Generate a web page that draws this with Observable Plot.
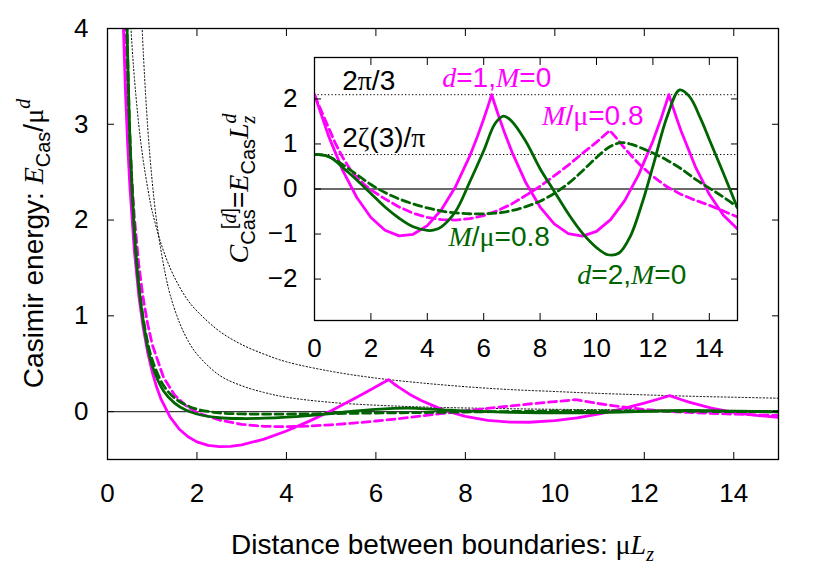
<!DOCTYPE html>
<html><head><meta charset="utf-8">
<script src="https://cdn.jsdelivr.net/npm/d3@7"></script>
<script src="https://cdn.jsdelivr.net/npm/@observablehq/plot@0.6"></script>
<style>
body{margin:0;background:#fff;}
#wrap{position:relative;width:830px;height:581px;overflow:hidden;}
#wrap svg{position:absolute;left:0;top:0;}
</style></head><body><div id="wrap"></div><script>
// ---------- data ----------
const xTicks = [0, 2, 4, 6, 8, 10, 12, 14];
const yTicksMain = [0, 1, 2, 3, 4];
const yTicksInset = [-2, -1, 0, 1, 2];
const insetRefLevels = [2.094, 0.765]; // 2π/3 , 2ζ(3)/π

// main panel: dotted reference curves
const envD1 = [[0.5,4.19],[0.55,3.81],[0.6,3.49],[0.7,2.99],[0.8,2.62],[0.9,2.33],[1.0,2.09],[1.2,1.75],[1.4,1.50],[1.6,1.31],[1.8,1.16],[2.0,1.05],[2.5,0.84],[3.0,0.70],[3.5,0.60],[4.0,0.52],[5.0,0.42],[6.0,0.35],[7.0,0.30],[8.0,0.26],[9.0,0.23],[10.0,0.21],[11.0,0.19],[12.0,0.175],[13.0,0.161],[14.0,0.15],[15.0,0.14]];
const envD2 = [[0.75,4.27],[0.8,3.75],[0.9,2.96],[1.0,2.40],[1.1,1.98],[1.2,1.67],[1.3,1.42],[1.4,1.22],[1.6,0.94],[1.8,0.74],[2.0,0.60],[2.5,0.38],[3.0,0.27],[3.5,0.20],[4.0,0.15],[5.0,0.096],[6.0,0.067],[7.0,0.049],[8.0,0.038],[10.0,0.024],[12.0,0.017],[15.0,0.011]];

// main panel: E_Cas / mu^d
const mainD1M0 = [[0.3,5.08],[0.35,4.10],[0.4,3.36],[0.45,2.80],[0.5,2.35],[0.6,1.68],[0.7,1.21],[0.8,0.873],[0.9,0.614],[1.0,0.413],[1.1,0.254],[1.2,0.127],[1.4,-0.058],[1.6,-0.181],[1.8,-0.263],[2.0,-0.316],[2.25,-0.353],[2.5,-0.366],[2.75,-0.363],[3.0,-0.347],[3.5,-0.287],[4.0,-0.203],[4.5,-0.102],[5.0,0.010],[5.5,0.132],[5.75,0.195],[6.0,0.259],[6.15,0.298],[6.283,0.333],[6.4,0.291],[6.5,0.258],[6.75,0.182],[7.0,0.118],[7.5,0.018],[8.0,-0.050],[8.5,-0.091],[9.0,-0.110],[9.42,-0.111],[10.0,-0.094],[10.5,-0.065],[11.0,-0.023],[11.5,0.028],[12.0,0.089],[12.3,0.129],[12.566,0.167],[12.8,0.129],[13.0,0.099],[13.5,0.037],[14.0,-0.008],[14.5,-0.040],[15.0,-0.059]];
const mainD1M08 = [[0.3,5.5],[0.35,4.51],[0.4,3.75],[0.45,3.18],[0.5,2.72],[0.6,2.03],[0.7,1.53],[0.8,1.175],[0.9,0.91],[1.0,0.70],[1.25,0.36],[1.5,0.173],[1.75,0.063],[2.0,-0.01],[2.5,-0.088],[3.0,-0.133],[3.5,-0.154],[4.0,-0.158],[4.5,-0.151],[5.0,-0.138],[5.5,-0.12],[6.0,-0.098],[6.5,-0.074],[7.0,-0.047],[7.5,-0.019],[8.0,0.0075],[8.5,0.034],[9.0,0.059],[9.5,0.083],[10.0,0.104],[10.47,0.124],[10.75,0.102],[11.0,0.082],[11.5,0.049],[12.0,0.023],[12.5,0.004],[13.0,-0.009],[14.0,-0.026],[15.0,-0.041]];
const mainD2M0 = [[0.3,8.5],[0.35,6.23],[0.4,4.75],[0.45,3.73],[0.5,2.88],[0.6,1.89],[0.7,1.31],[0.8,0.94],[0.9,0.67],[1.0,0.48],[1.25,0.218],[1.5,0.089],[1.75,0.016],[2.0,-0.025],[2.5,-0.064],[3.0,-0.072],[3.5,-0.069],[4.0,-0.058],[4.5,-0.041],[5.0,-0.02],[5.5,0.005],[6.0,0.024],[6.7,0.036],[7.0,0.031],[7.5,0.019],[8.0,0.007],[9.0,-0.007],[10.4,-0.0135],[11.2,-0.008],[12.0,0.0035],[12.95,0.013],[14.0,0.0056],[15.0,-0.002]];
const mainD2M08 = [[0.3,8.5],[0.35,6.23],[0.4,4.75],[0.45,3.73],[0.5,2.88],[0.6,1.92],[0.7,1.33],[0.8,0.97],[0.9,0.72],[1.0,0.54],[1.25,0.275],[1.5,0.142],[1.75,0.069],[2.0,0.025],[2.5,-0.013],[3.0,-0.024],[3.5,-0.027],[4.0,-0.026],[5.0,-0.021],[6.0,-0.015],[7.0,-0.0098],[8.0,-0.0042],[9.0,0.0015],[10.0,0.007],[10.9,0.0087],[12.0,0.0056],[13.0,0.0027],[14.0,0.0001],[15.0,-0.0018]];

// inset: C_Cas^[d] = E_Cas L_z^d
const insetD1M0 = [[0,2.094],[0.5,1.174],[1.0,0.413],[1.5,-0.189],[2.0,-0.632],[2.5,-0.916],[3.0,-1.041],[3.5,-1.006],[4.0,-0.812],[4.5,-0.460],[5.0,0.052],[5.5,0.724],[5.75,1.119],[6.0,1.554],[6.15,1.834],[6.283,2.094],[6.5,1.676],[6.75,1.230],[7.0,0.825],[7.5,0.132],[8.0,-0.401],[8.5,-0.775],[9.0,-0.990],[9.5,-1.045],[10.0,-0.942],[10.5,-0.679],[11.0,-0.257],[11.5,0.324],[12.0,1.064],[12.3,1.584],[12.566,2.094],[12.8,1.645],[13.0,1.287],[13.5,0.505],[14.0,-0.118],[14.5,-0.582],[15.0,-0.888]];
const insetD1M08 = [[0,2.09],[0.25,1.72],[0.5,1.36],[0.75,1.0],[1.0,0.7],[1.25,0.45],[1.5,0.26],[1.75,0.11],[2.0,-0.02],[2.5,-0.22],[3.0,-0.4],[3.5,-0.54],[4.0,-0.63],[4.5,-0.68],[5.0,-0.69],[5.5,-0.66],[6.0,-0.59],[6.5,-0.48],[7.0,-0.33],[7.5,-0.14],[8.0,0.06],[8.5,0.29],[9.0,0.53],[9.5,0.79],[10.0,1.04],[10.47,1.3],[10.75,1.1],[11.0,0.9],[11.5,0.56],[12.0,0.28],[12.5,0.05],[13.0,-0.12],[13.5,-0.25],[14.0,-0.36],[14.5,-0.49],[15.0,-0.62]];
const insetD2M0 = [[0,0.77],[0.25,0.76],[0.5,0.72],[0.75,0.62],[1.0,0.48],[1.5,0.2],[2.0,-0.1],[2.5,-0.4],[3.0,-0.65],[3.5,-0.84],[4.0,-0.92],[4.25,-0.91],[4.5,-0.84],[5.0,-0.5],[5.5,0.15],[6.0,0.85],[6.4,1.45],[6.7,1.62],[7.0,1.5],[7.5,1.05],[8.0,0.45],[8.5,-0.05],[9.0,-0.55],[9.5,-0.98],[10.0,-1.3],[10.4,-1.46],[10.8,-1.42],[11.2,-1.05],[11.6,-0.35],[12.0,0.5],[12.5,1.6],[12.95,2.2],[13.3,2.05],[13.7,1.55],[14.0,1.1],[14.5,0.35],[15.0,-0.42]];
const insetD2M08 = [[0,0.77],[0.25,0.76],[0.5,0.72],[0.75,0.64],[1.0,0.54],[1.5,0.32],[2.0,0.1],[2.5,-0.08],[3.0,-0.22],[3.5,-0.33],[4.0,-0.42],[4.5,-0.49],[5.0,-0.53],[5.5,-0.55],[6.0,-0.55],[6.5,-0.53],[7.0,-0.48],[7.5,-0.39],[8.0,-0.27],[8.5,-0.1],[9.0,0.12],[9.5,0.4],[10.0,0.7],[10.5,0.95],[10.9,1.03],[11.3,0.98],[11.7,0.88],[12.0,0.8],[12.5,0.64],[13.0,0.45],[13.5,0.22],[14.0,0.02],[14.5,-0.18],[15.0,-0.4]];

// ---------- styles ----------
const MAG = "#ff00ff", GRN = "#006400";
const SANS = "'Liberation Sans', Arial, Helvetica, sans-serif";
const SERIF = "'Liberation Serif', 'Times New Roman', serif";
const solid = c => ({stroke: c, strokeWidth: 2.8, clip: true});
const dashed = c => ({stroke: c, strokeWidth: 2.8, strokeDasharray: "8,4.5", clip: true});
const dotted = {stroke: "black", strokeWidth: 1, strokeDasharray: "1.3,2.2", clip: true, curve: "catmull-rom"};
const baseStyle = {background: "transparent", fontFamily: SANS, fontSize: "26px", color: "black", overflow: "visible"};
const fmt = d => (d < 0 ? "\u2212" + (-d) : String(d));

function frameAxes(yT, padX, padY) {
  return [
    Plot.axisX({ticks: xTicks, anchor: "bottom", tickSize: -7, tickPadding: padX, tickFormat: fmt, fontSize: 26, label: null}),
    Plot.axisX({ticks: xTicks, anchor: "top", tickSize: -7, tickFormat: () => "", label: null}),
    Plot.axisY({ticks: yT, anchor: "left", tickSize: -7, tickPadding: padY, tickFormat: fmt, fontSize: 26, label: null}),
    Plot.axisY({ticks: yT, anchor: "right", tickSize: -7, tickFormat: () => "", label: null})
  ];
}

// ---------- main panel ----------
const mainPlot = Plot.plot({
  width: 830, height: 581,
  marginLeft: 107, marginRight: 52, marginTop: 28, marginBottom: 122,
  style: baseStyle,
  x: {domain: [0, 15], label: null},
  y: {domain: [-0.5, 4], label: null},
  marks: [
    Plot.ruleY([0], {stroke: "#3a3a3a", strokeWidth: 1.4}),
    Plot.line(envD1, dotted),
    Plot.line(envD2, dotted),
    Plot.line(mainD1M0, solid(MAG)),
    Plot.line(mainD1M08, dashed(MAG)),
    Plot.line(mainD2M0, {...solid(GRN), curve: "catmull-rom"}),
    Plot.line(mainD2M08, {...dashed(GRN), curve: "catmull-rom"}),
    ...frameAxes(yTicksMain, 31, 26),
    Plot.frame({stroke: "black", strokeWidth: 1.3})
  ]
});

// ---------- inset ----------
const ann = (cls, txt, x, y, color) =>
  Plot.text([txt], {x: () => x, y: () => y, text: d => d, className: cls, fill: color,
    fontSize: 28, textAnchor: "start", lineAnchor: "middle"});

const insetPlot = Plot.plot({
  width: 830, height: 581,
  marginLeft: 314, marginRight: 93, marginTop: 57, marginBottom: 261,
  style: baseStyle,
  x: {domain: [0, 15], label: null},
  y: {domain: [-2.92, 2.92], label: null},
  marks: [
    Plot.frame({fill: "white"}),
    Plot.ruleY([0], {stroke: "#3a3a3a", strokeWidth: 1.4}),
    Plot.ruleY(insetRefLevels, {stroke: "black", strokeWidth: 1, strokeDasharray: "1.3,2.2"}),
    Plot.line(insetD1M0, solid(MAG)),
    Plot.line(insetD1M08, dashed(MAG)),
    Plot.line(insetD2M0, {...solid(GRN), curve: "catmull-rom"}),
    Plot.line(insetD2M08, {...dashed(GRN), curve: "catmull-rom"}),
    ...frameAxes(yTicksInset, 25, 24),
    Plot.frame({stroke: "black", strokeWidth: 1.3}),
    ann("a-twopi", "2π/3", 0.98, 2.40, "black"),
    ann("a-zeta", "2ζ(3)/π", 0.98, 1.13, "black"),
    ann("a-d1", "d=1,M=0", 4.53, 2.47, MAG),
    ann("a-m1", "M/μ=0.8", 8.07, 1.62, MAG),
    ann("a-m2", "M/μ=0.8", 4.75, -1.07, GRN),
    ann("a-d2", "d=2,M=0", 9.32, -1.91, GRN)
  ]
});

// ---------- rich text ----------
const it = s => `<tspan font-family="${SERIF}" font-style="italic">${s}</tspan>`;
const gr = s => `<tspan font-family="${SERIF}">${s}</tspan>`;
const rich = {
  "a-twopi": `2${gr("π")}/3`,
  "a-zeta": `2${gr("ζ")}(3)/${gr("π")}`,
  "a-d1": `${it("d")}=1,${it("M")}=0`,
  "a-m1": `${it("M")}/${gr("μ")}=0.8`,
  "a-m2": `${it("M")}/${gr("μ")}=0.8`,
  "a-d2": `${it("d")}=2,${it("M")}=0`
};
for (const [cls, html] of Object.entries(rich)) {
  const t = insetPlot.querySelector(`.${cls} text`);
  if (t) t.innerHTML = html;
}

function addLabel(svg, x, y, rotate, html) {
  d3.select(svg).append("text")
    .attr("transform", `translate(${x},${y})` + (rotate ? " rotate(-90)" : ""))
    .attr("text-anchor", "middle")
    .attr("font-family", SANS)
    .attr("font-size", 28)
    .attr("fill", "black")
    .html(html);
}
const mx = mainPlot.scale("x"), my = mainPlot.scale("y");
const iy = insetPlot.scale("y");
const mainCx = (mx.apply(0) + mx.apply(15)) / 2;
const mainCy = (my.apply(-0.5) + my.apply(4)) / 2;
const insetCy = (iy.apply(-2.92) + iy.apply(2.92)) / 2;

addLabel(mainPlot, mainCx, 554, false,
  `Distance between boundaries: ${gr("μ")}${it("L")}<tspan dy="7" font-size="20" font-family="${SERIF}" font-style="italic">z</tspan>`);
addLabel(mainPlot, 43, mainCy, true,
  `Casimir energy: ${it("E")}<tspan font-size="20" dy="7">Cas</tspan><tspan dy="-7">/</tspan>${gr("μ")}<tspan dy="-13" font-size="20">${it("d")}</tspan>`);
addLabel(insetPlot, 248, insetCy, true,
  `${it("C")}<tspan font-size="20" dy="7">Cas</tspan><tspan font-size="20" dy="-19" dx="-20">[${it("d")}]</tspan><tspan dy="12">=</tspan>${it("E")}<tspan font-size="20" dy="7">Cas</tspan><tspan dy="-7">${it("L")}</tspan><tspan font-size="20" dy="7" font-family="${SERIF}" font-style="italic">z</tspan><tspan font-size="20" dy="-19" dx="-8">${it("d")}</tspan>`);

const wrap = document.getElementById("wrap");
wrap.appendChild(mainPlot);
wrap.appendChild(insetPlot);
</script></body></html>
